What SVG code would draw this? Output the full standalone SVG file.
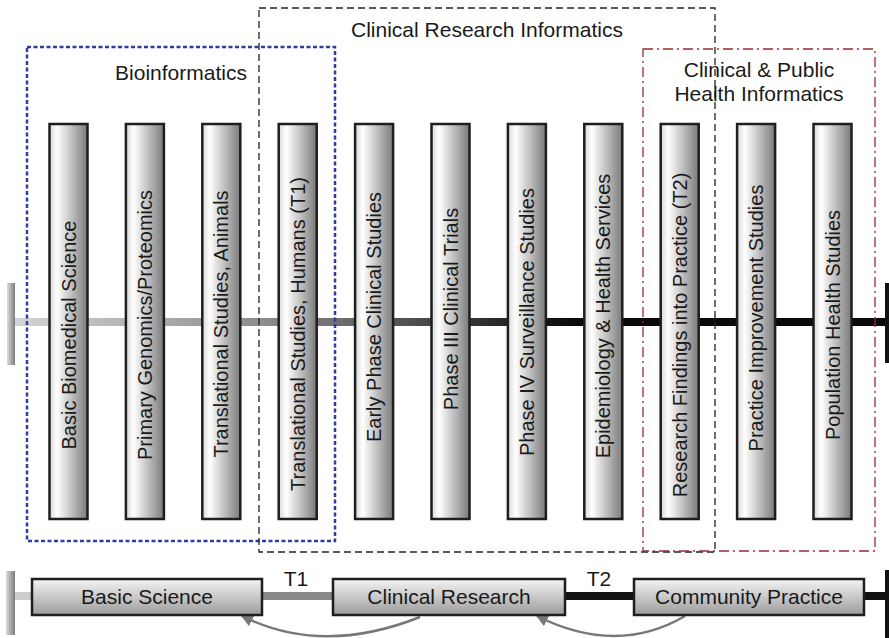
<svg xmlns="http://www.w3.org/2000/svg" width="889" height="638" viewBox="0 0 889 638">
<defs>
<linearGradient id="barG" x1="0" y1="0" x2="1" y2="0">
<stop offset="0" stop-color="#d8d8d8"/>
<stop offset="0.2" stop-color="#ffffff"/>
<stop offset="1" stop-color="#7a7a7a"/>
</linearGradient>
<linearGradient id="boxG" x1="0" y1="0" x2="0" y2="1">
<stop offset="0" stop-color="#f4f4f4"/>
<stop offset="1" stop-color="#9c9c9c"/>
</linearGradient>
<linearGradient id="endG" x1="0" y1="0" x2="1" y2="0">
<stop offset="0" stop-color="#dcdcdc"/>
<stop offset="1" stop-color="#7c7c7c"/>
</linearGradient>
<linearGradient id="lineG" gradientUnits="userSpaceOnUse" x1="15" y1="0" x2="575" y2="0">
<stop offset="0" stop-color="#d4d4d4"/>
<stop offset="0.45" stop-color="#8c8c8c"/>
<stop offset="1" stop-color="#0a0a0a"/>
</linearGradient>
<marker id="ah" viewBox="0 0 10 10" refX="9" refY="5" markerWidth="12" markerHeight="12" markerUnits="userSpaceOnUse" orient="auto">
<path d="M0,0 L10,5 L0,10 Z" fill="#777"/>
</marker>
</defs>
<style>
.bar{fill:url(#barG);stroke:#1e1e1e;stroke-width:2.5}
.box{fill:url(#boxG);stroke:#1e1e1e;stroke-width:2.5}
.vt{font-family:"Liberation Sans",Arial,sans-serif;font-size:20px;fill:#1a1a1a;text-anchor:middle}
.ht{font-family:"Liberation Sans",Arial,sans-serif;font-size:21px;fill:#1a1a1a;text-anchor:middle}
.bt{font-family:"Liberation Sans",Arial,sans-serif;font-size:21px;fill:#1a1a1a;text-anchor:middle}
.arc{fill:none;stroke:#777;stroke-width:2.5;marker-end:url(#ah)}
</style>
<rect width="889" height="638" fill="#ffffff"/>

<g id="timeline">
<rect x="15" y="318" width="871" height="8" fill="url(#lineG)"/>
<rect x="7" y="283" width="8" height="82" fill="url(#endG)"/>
<rect x="885" y="283" width="4" height="80" fill="#111"/>
</g>

<g id="bar-basic-biomedical"><rect class="bar" x="49.5" y="124" width="38" height="395"/><text class="vt" transform="translate(68.5,335) rotate(-90)" y="7">Basic Biomedical Science</text></g>
<g id="bar-genomics"><rect class="bar" x="125.9" y="124" width="38" height="395"/><text class="vt" transform="translate(144.9,325) rotate(-90)" y="7">Primary Genomics/Proteomics</text></g>
<g id="bar-trans-animals"><rect class="bar" x="202.3" y="124" width="38" height="395"/><text class="vt" transform="translate(221.3,324) rotate(-90)" y="7">Translational Studies, Animals</text></g>
<g id="bar-trans-humans"><rect class="bar" x="278.7" y="124" width="38" height="395"/><text class="vt" transform="translate(297.7,334) rotate(-90)" y="7">Translational Studies, Humans (T1)</text></g>
<g id="bar-early-phase"><rect class="bar" x="355.1" y="124" width="38" height="395"/><text class="vt" transform="translate(374.1,317) rotate(-90)" y="7">Early Phase Clinical Studies</text></g>
<g id="bar-phase3"><rect class="bar" x="431.5" y="124" width="38" height="395"/><text class="vt" transform="translate(450.5,309) rotate(-90)" y="7">Phase III Clinical Trials</text></g>
<g id="bar-phase4"><rect class="bar" x="507.9" y="124" width="38" height="395"/><text class="vt" transform="translate(526.9,322) rotate(-90)" y="7">Phase IV Surveillance Studies</text></g>
<g id="bar-epidemiology"><rect class="bar" x="584.3" y="124" width="38" height="395"/><text class="vt" transform="translate(603.3,316) rotate(-90)" y="7">Epidemiology &amp; Health Services</text></g>
<g id="bar-research-findings"><rect class="bar" x="660.7" y="124" width="38" height="395"/><text class="vt" transform="translate(679.7,335) rotate(-90)" y="7">Research Findings into Practice (T2)</text></g>
<g id="bar-practice"><rect class="bar" x="737.1" y="124" width="38" height="395"/><text class="vt" transform="translate(756.1,318) rotate(-90)" y="7">Practice Improvement Studies</text></g>
<g id="bar-population"><rect class="bar" x="813.5" y="124" width="38" height="395"/><text class="vt" transform="translate(832.5,325) rotate(-90)" y="7">Population Health Studies</text></g>

<g id="region-bioinformatics">
<rect x="27" y="47" width="308" height="494" fill="none" stroke="#2e3d9e" stroke-width="2.5" stroke-dasharray="4 2.5"/>
<text class="ht" x="181" y="80">Bioinformatics</text>
</g>
<g id="region-clinical-research">
<rect x="259" y="8" width="456" height="544" fill="none" stroke="#222" stroke-width="1.3" stroke-dasharray="7 4"/>
<text class="ht" x="487" y="37">Clinical Research Informatics</text>
</g>
<g id="region-public-health">
<rect x="643" y="49" width="232" height="502" fill="none" stroke="#9a2d2d" stroke-width="1.3" stroke-dasharray="10 4 2 4"/>
<text class="ht" x="759" y="77">Clinical &amp; Public</text>
<text class="ht" x="759" y="101">Health Informatics</text>
</g>

<g id="connectors">
<rect x="15" y="592" width="17" height="8" fill="#cccccc"/>
<rect x="262" y="592" width="71" height="8" fill="#888888"/>
<rect x="565" y="592" width="69" height="8" fill="#111111"/>
<rect x="864" y="592" width="22" height="8" fill="#111111"/>
<rect x="6" y="571" width="9" height="64" fill="url(#endG)"/>
<rect x="885" y="570" width="4" height="68" fill="#111"/>
<text class="bt" x="296" y="586">T1</text>
<text class="bt" x="599" y="586">T2</text>
<path class="arc" d="M420,617 Q322,656 242,616"/>
<path class="arc" d="M685,616 Q617,656 537,616"/>
</g>

<g id="box-basic-science"><rect class="box" x="32" y="579" width="230" height="36"/><text class="bt" x="147" y="604">Basic Science</text></g>
<g id="box-clinical-research"><rect class="box" x="333" y="579" width="232" height="36"/><text class="bt" x="449" y="604">Clinical Research</text></g>
<g id="box-community-practice"><rect class="box" x="634" y="579" width="230" height="36"/><text class="bt" x="749" y="604">Community Practice</text></g>
</svg>
